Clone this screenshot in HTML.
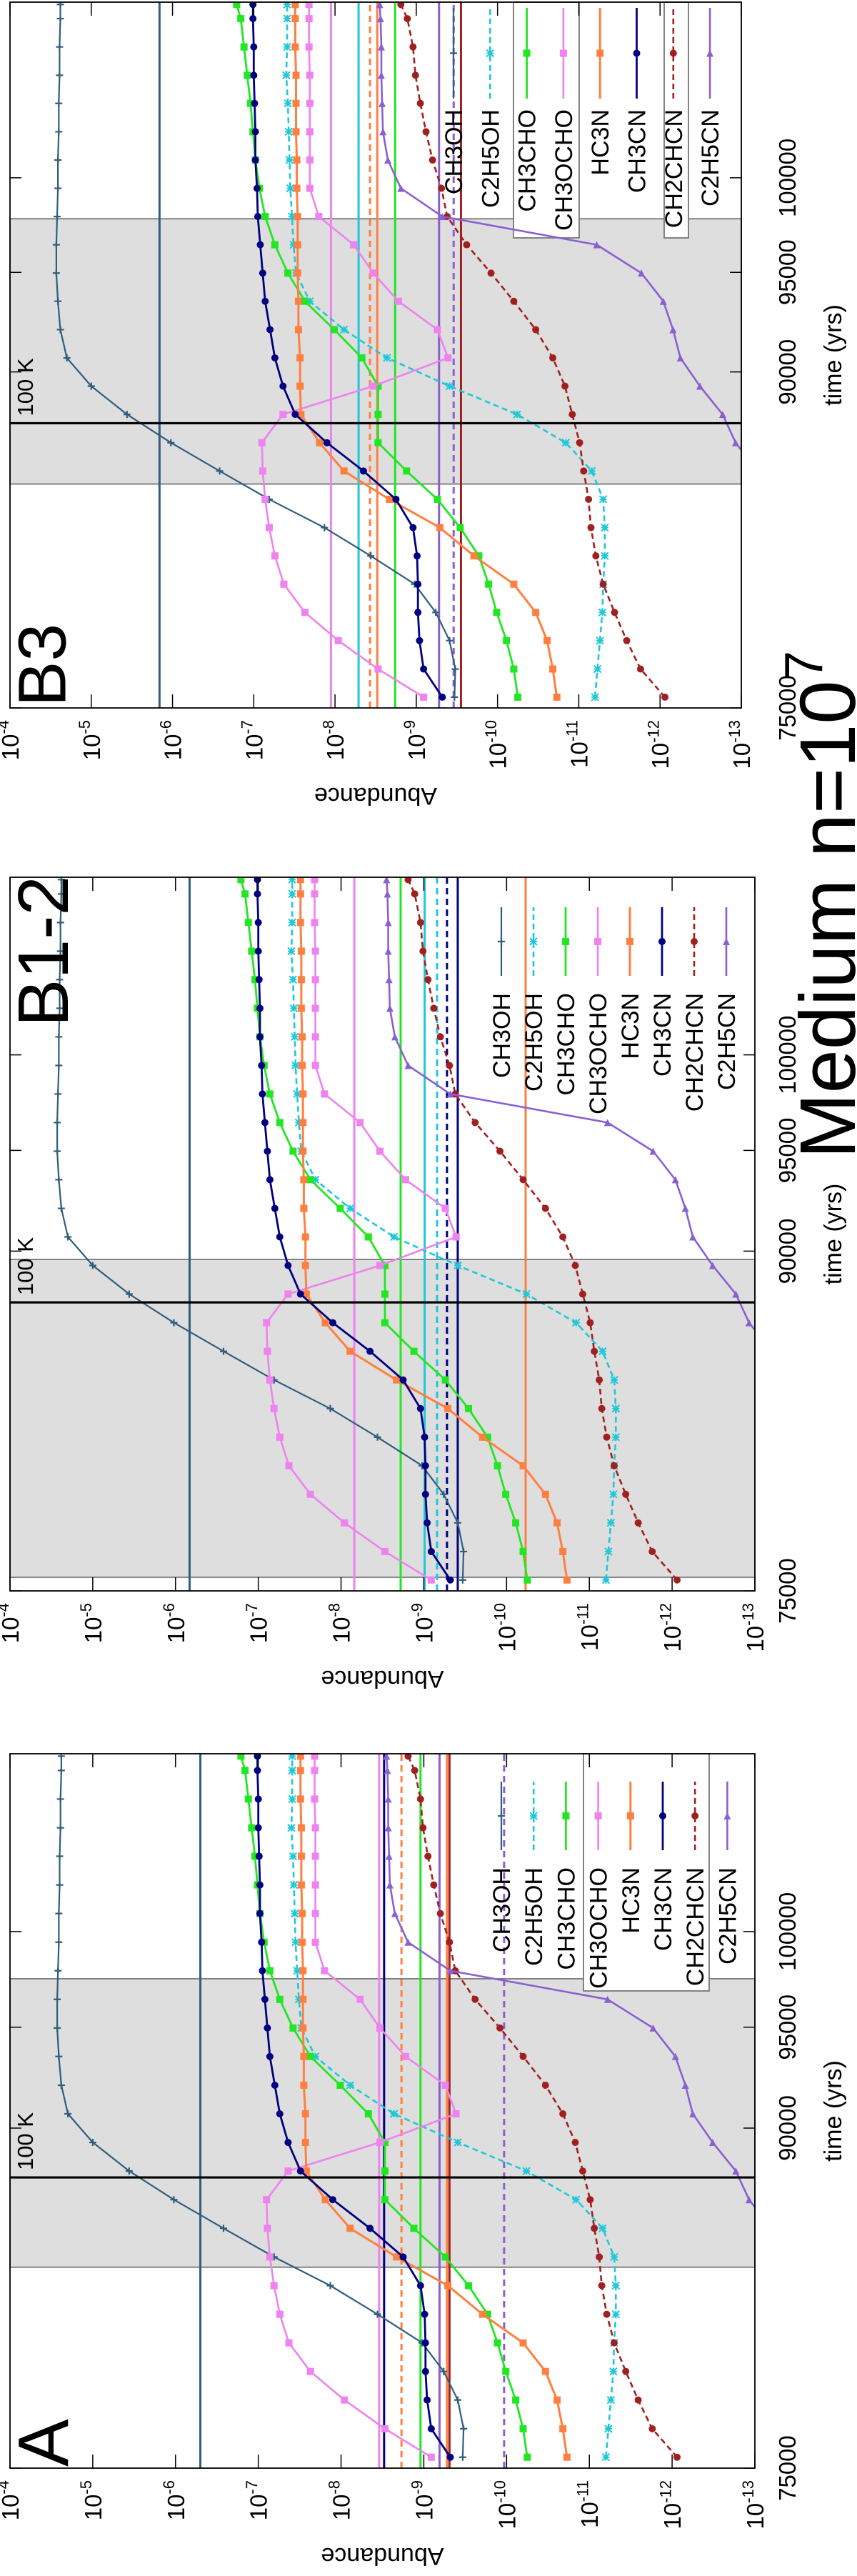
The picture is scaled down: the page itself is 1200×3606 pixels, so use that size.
<!DOCTYPE html>
<html>
<head>
<meta charset="utf-8">
<style>
  html, body { margin: 0; padding: 0; background: #ffffff; }
  svg { display: block; }
  text { font-family: "Liberation Sans", "DejaVu Sans", sans-serif; fill: #000; }
</style>
</head>
<body>
<svg id="fig" width="1200" height="3606" viewBox="0 0 1200 3606" xmlns="http://www.w3.org/2000/svg">
  <rect x="0" y="0" width="1200" height="3606" fill="#ffffff"/>
  <defs id="defs"></defs>
  <g id="land" transform="translate(0,3606) rotate(-90)"></g>
</svg>
<script>
// ---- model data (time in yrs, log10 abundance) ----
const times = [75440,76600,77790,78990,80210,81450,82710,83990,85290,86610,87950,89310,90690,92090,93520,94960,96430,97920,99430,100970,102530,104120,105720,107360,109020,109860];
const CH3OH = [-9.47,-9.48,-9.41,-9.24,-8.98,-8.44,-7.87,-7.19,-6.58,-5.98,-5.44,-5.00,-4.70,-4.62,-4.59,-4.57,-4.57,-4.58,-4.59,-4.59,-4.60,-4.60,-4.61,-4.61,-4.62,-4.62];
const C2H5OH = [-11.20,-11.23,-11.26,-11.29,-11.30,-11.32,-11.32,-11.30,-11.16,-10.84,-10.24,-9.41,-8.64,-8.11,-7.69,-7.52,-7.49,-7.47,-7.45,-7.44,-7.43,-7.42,-7.40,-7.41,-7.41,-7.41];
const CH3CHO = [-10.25,-10.20,-10.11,-9.99,-9.89,-9.77,-9.54,-9.26,-8.88,-8.53,-8.53,-8.53,-8.33,-7.99,-7.63,-7.42,-7.26,-7.14,-7.07,-7.02,-6.99,-6.96,-6.92,-6.88,-6.84,-6.79];
const CH3OCHO = [-9.09,-8.53,-8.04,-7.63,-7.37,-7.26,-7.19,-7.14,-7.11,-7.10,-7.36,-8.47,-9.39,-9.26,-8.78,-8.47,-8.23,-7.80,-7.69,-7.69,-7.69,-7.69,-7.69,-7.68,-7.68,-7.68];
const HC3N = [-10.73,-10.68,-10.61,-10.47,-10.20,-9.71,-9.29,-8.67,-8.11,-7.81,-7.58,-7.57,-7.57,-7.55,-7.55,-7.54,-7.54,-7.54,-7.53,-7.53,-7.52,-7.52,-7.52,-7.51,-7.51,-7.51];
const CH3CN = [-9.32,-9.09,-9.04,-9.02,-9.02,-9.01,-8.96,-8.75,-8.35,-7.90,-7.51,-7.36,-7.26,-7.20,-7.14,-7.11,-7.08,-7.05,-7.04,-7.02,-7.02,-7.01,-7.00,-7.00,-6.99,-6.99];
const CH2CHCN = [-12.06,-11.76,-11.59,-11.44,-11.30,-11.21,-11.15,-11.12,-11.06,-11.01,-10.92,-10.83,-10.68,-10.47,-10.20,-9.92,-9.62,-9.38,-9.31,-9.20,-9.12,-9.05,-8.99,-8.96,-8.89,-8.81];
const C2H5CN = [-13.5,-13.5,-13.5,-13.5,-13.5,-13.5,-13.5,-13.5,-13.2,-12.93,-12.77,-12.49,-12.25,-12.16,-12.04,-11.77,-11.22,-9.32,-8.81,-8.65,-8.59,-8.58,-8.57,-8.57,-8.56,-8.55];

const speciesNames = ['CH3OH','C2H5OH','CH3CHO','CH3OCHO','HC3N','CH3CN','CH2CHCN','C2H5CN'];

// ---- observed abundances per panel ----
const obsA_species = ['CH3OH','CH3OCHO','CH3CN','HC3N','CH3CHO','C2H5CN','HC3N','CH2CHCN','C2H5CN'];
const obsA_values = [-6.30,-8.46,-8.52,-8.73,-8.96,-9.19,-9.28,-9.31,-9.97];
const obsA_dashed = [0,0,0,1,0,0,0,0,1];
const obsB12_species = ['CH3OH','CH3OCHO','CH3CHO','C2H5OH','C2H5OH','CH3CN','CH3CN','HC3N'];
const obsB12_values = [-6.17,-8.16,-8.72,-9.01,-9.16,-9.28,-9.41,-10.23];
const obsB12_dashed = [0,0,0,0,1,1,0,0];
const obsB3_species = ['CH3OH','CH3OCHO','C2H5OH','HC3N','HC3N','CH3CHO','C2H5CN','C2H5CN','CH2CHCN'];
const obsB3_values = [-5.84,-7.95,-8.29,-8.43,-8.52,-8.74,-9.28,-9.46,-9.55];
const obsB3_dashed = [0,0,0,1,0,0,0,1,0];

// ---- axis ticks ----
const decadeExps = [-4,-5,-6,-7,-8,-9,-10,-11,-12,-13];
const timeTicks = [75000,90000,95000,100000];
const timeTickLabels = ['75000','90000','95000','100000'];

// ---- shaded (hot core) periods and 100 K times ----
const shadeA = [83530, 97500];
const shadeB12 = [75550, 89600];
const shadeB3 = [84690, 97800];
const hotTimes = [87650, 87560, 87530];

const series = {CH3OH:CH3OH, C2H5OH:C2H5OH, CH3CHO:CH3CHO, CH3OCHO:CH3OCHO, HC3N:HC3N, CH3CN:CH3CN, CH2CHCN:CH2CHCN, C2H5CN:C2H5CN};
const styles = {
  CH3OH:   {color:'#2e5e7e', dash:null, marker:'plus', w:2.2},
  C2H5OH:  {color:'#1ec8d8', dash:'8,5', marker:'star', w:2.6},
  CH3CHO:  {color:'#22e622', dash:null, marker:'square', w:2.8},
  CH3OCHO: {color:'#ee82ee', dash:null, marker:'square', w:2.6},
  HC3N:    {color:'#ff7f40', dash:null, marker:'square', w:3},
  CH3CN:   {color:'#000080', dash:null, marker:'circle', w:2.8},
  CH2CHCN: {color:'#a02020', dash:'8,5', marker:'circle', w:2.6},
  C2H5CN:  {color:'#8a60d0', dash:null, marker:'triangle', w:2.6}
};

const TMIN = 75000, TMAX = 110000;
const panels = [
  {id:'a', label:'A', labelRight:false, X0:151, X1:1151, Y0:14, Y1:1057, shade:shadeA, hot:hotTimes[0],
   obsS:obsA_species, obsV:obsA_values, obsD:obsA_dashed,
   leg:{y:702, step:45.2, s0:1016, s1:1112, tEnd:992}, boxes:[[819,817,993]], labelSize:100},
  {id:'b12', label:'B1-2', labelRight:true, X0:1379, X1:2378, Y0:14, Y1:1057, shade:shadeB12, hot:hotTimes[1],
   obsS:obsB12_species, obsV:obsB12_values, obsD:obsB12_dashed,
   leg:{y:702, step:45, s0:2240, s1:2336, tEnd:2216}, boxes:[], labelSize:100},
  {id:'b3', label:'B3', labelRight:false, X0:2615, X1:3603, Y0:14, Y1:1038, shade:shadeB3, hot:hotTimes[2],
   obsS:obsB3_species, obsV:obsB3_values, obsD:obsB3_dashed,
   leg:{y:635, step:51.3, s0:3468, s1:3595, tEnd:3453}, boxes:[[3273,719,811],[3273,930,964]], labelSize:95}
];

const NS = 'http://www.w3.org/2000/svg';
const root = document.getElementById('land');
const defs = document.getElementById('defs');

function mk(tag, attrs, parent) {
  const e = document.createElementNS(NS, tag);
  for (const k in attrs) e.setAttribute(k, attrs[k]);
  (parent || root).appendChild(e);
  return e;
}
function xOf(p, t) { return p.X0 + Math.log10(t / TMIN) / Math.log10(TMAX / TMIN) * (p.X1 - p.X0); }
function yOf(p, e) { return p.Y0 + (-4 - e) / 9 * (p.Y1 - p.Y0); }

function drawMarker(g, type, x, y, color) {
  const s = 5;
  let m;
  if (type === 'plus') {
    m = mk('path', {d:`M${x-s},${y}H${x+s}M${x},${y-s}V${y+s}`, stroke:color, 'stroke-width':2.2, fill:'none'}, g);
  } else if (type === 'star') {
    m = mk('path', {d:`M${x-s},${y-s}L${x+s},${y+s}M${x-s},${y+s}L${x+s},${y-s}M${x-s},${y}H${x+s}M${x},${y-s}V${y+s}`, stroke:color, 'stroke-width':2, fill:'none'}, g);
  } else if (type === 'square') {
    m = mk('rect', {x:x-s, y:y-s, width:2*s, height:2*s, fill:color}, g);
  } else if (type === 'circle') {
    m = mk('circle', {cx:x, cy:y, r:s, fill:color}, g);
  } else {
    m = mk('path', {d:`M${x+s},${y}L${x-s},${y-s}L${x-s},${y+s}Z`, fill:color}, g);
  }
  
  
}

function supText(parent, x, y, base, sup, size, supSize, anchor, name) {
  const t = mk('text', {x:x, y:y, 'font-size':size, 'text-anchor':anchor}, parent);
  
  
  t.appendChild(document.createTextNode(base));
  const ts = mk('tspan', {dy:-(size*0.42), 'font-size':supSize}, t);
  ts.textContent = sup;
  return t;
}

panels.forEach(function(p) {
  const g = mk('g', {});
  
  

  const cp = mk('clipPath', {id:'clip-' + p.id}, defs);
  mk('rect', {x:p.X0, y:p.Y0, width:p.X1 - p.X0, height:p.Y1 - p.Y0}, cp);

  // shaded hot-core region
  const sx0 = xOf(p, Math.max(p.shade[0], TMIN)), sx1 = xOf(p, p.shade[1]);
  const sh = mk('rect', {x:sx0, y:p.Y0, width:sx1 - sx0, height:p.Y1 - p.Y0, fill:'#dedede', stroke:'#777', 'stroke-width':1.8}, g);
  
  

  // legend boxes
  p.boxes.forEach(function(b) {
    const bx = mk('rect', {x:b[0], y:b[1], width:p.X1 - b[0], height:b[2] - b[1], fill:'#fff', stroke:'#777', 'stroke-width':1.8}, g);
    
    
  });

  const plot = mk('g', {'clip-path':'url(#clip-' + p.id + ')'}, g);
  
  

  // observed abundance lines
  p.obsS.forEach(function(sp, i) {
    const y = yOf(p, p.obsV[i]);
    const attrs = {x1:p.X0, x2:p.X1, y1:y, y2:y, stroke:styles[sp].color, 'stroke-width':3};
    if (p.obsD[i]) attrs['stroke-dasharray'] = '9,6';
    const l = mk('line', attrs, plot);
    
    
  });

  // model curves
  speciesNames.forEach(function(sp) {
    const st = styles[sp];
    const vals = series[sp];
    let d = '';
    vals.forEach(function(v, i) {
      d += (i ? 'L' : 'M') + xOf(p, times[i]).toFixed(1) + ',' + yOf(p, v).toFixed(1);
    });
    const attrs = {d:d, fill:'none', stroke:st.color, 'stroke-width':st.w, 'stroke-linejoin':'round'};
    if (st.dash) attrs['stroke-dasharray'] = st.dash;
    const cg = mk('g', {}, plot);
    
    
    const path = mk('path', attrs, cg);
    
    
    vals.forEach(function(v, i) {
      drawMarker(cg, st.marker, xOf(p, times[i]), yOf(p, v), st.color);
    });
  });

  // 100 K line
  const hx = xOf(p, p.hot);
  const hl = mk('line', {x1:hx, x2:hx, y1:p.Y0, y2:p.Y1, stroke:'#000', 'stroke-width':3.2}, g);
  
  
  const ht = mk('text', {x:hx + 10, y:p.Y0 + 32, 'font-size':31}, g);
  
  
  ht.textContent = '100 K';

  // frame
  const fr = mk('rect', {x:p.X0, y:p.Y0, width:p.X1 - p.X0, height:p.Y1 - p.Y0, fill:'none', stroke:'#000', 'stroke-width':1.8}, g);
  
  

  // abundance ticks + labels
  decadeExps.forEach(function(e) {
    const y = yOf(p, e);
    const tk = mk('path', {d:`M${p.X0},${y}h19M${p.X1},${y}h-19`, stroke:'#000', 'stroke-width':1.5}, g);
    
    
    supText(g, p.X0 - 17, y + 12, '10', String(e), 33, 22, 'end', 'y-tick-label');
  });

  // time ticks + labels
  timeTicks.forEach(function(t, i) {
    const x = xOf(p, t);
    const tk = mk('path', {d:`M${x},${p.Y0}v16M${x},${p.Y1}v-16`, stroke:'#000', 'stroke-width':1.5}, g);
    
    
    const tl = mk('text', {x:x, y:1114, 'font-size':33, 'text-anchor':'middle'}, g);
    
    
    tl.textContent = timeTickLabels[i];
  });

  // axis titles
  const xt = mk('text', {x:(p.X0 + p.X1) / 2, y:1178, 'font-size':34, 'text-anchor':'middle'}, g);
  
  
  xt.textContent = 'time (yrs)';
  const yc = (p.Y0 + p.Y1) / 2 + 0;
  const ax = p.X0 - 112;
  const yt = mk('text', {x:ax, y:yc, 'font-size':34, 'text-anchor':'middle', transform:`rotate(-90 ${ax} ${yc})`}, g);
  
  
  yt.textContent = 'Abundance';

  // panel label
  const pl = mk('text', {x:p.labelRight ? p.X1 + 2 : p.X0 + 2, y:p.Y0 + 0.72 * p.labelSize + 9, 'font-size':p.labelSize, 'text-anchor':p.labelRight ? 'end' : 'start'}, g);
  
  
  pl.textContent = p.label;

  // legend
  const lg = mk('g', {}, g);
  
  
  speciesNames.forEach(function(sp, i) {
    const st = styles[sp];
    const y = p.leg.y + i * p.leg.step;
    const eg = mk('g', {}, lg);
    
    
    const lt = mk('text', {x:p.leg.tEnd, y:y + 12, 'font-size':34, 'text-anchor':'end'}, eg);
    
    
    lt.textContent = sp;
    const la = {x1:p.leg.s0, x2:p.leg.s1, y1:y, y2:y, stroke:st.color, 'stroke-width':st.w};
    if (st.dash) la['stroke-dasharray'] = st.dash;
    const ll = mk('line', la, eg);
    
    
    drawMarker(eg, st.marker, (p.leg.s0 + p.leg.s1) / 2, y, st.color);
  });
});

// figure title
const title = supText(root, 1984, 1197, 'Medium n=10', '7', 110, 75, 'start', 'figure-title');
</script>
</body>
</html>
